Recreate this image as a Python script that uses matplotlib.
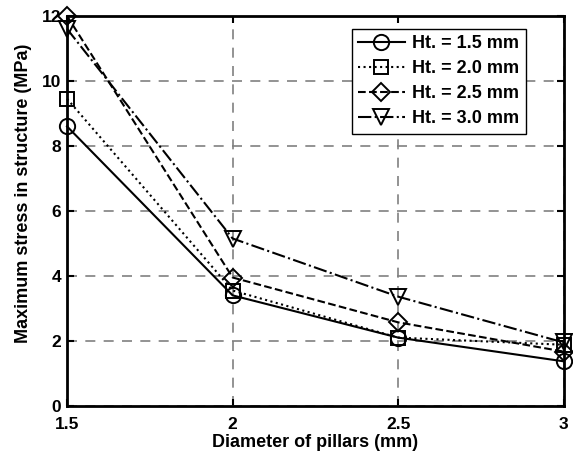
import matplotlib
matplotlib.use('Agg')
import matplotlib.pyplot as plt

plt.rcParams['font.family'] = ['Liberation Sans', 'DejaVu Sans']
plt.rcParams['font.weight'] = 'bold'

diameter = [1.5, 2.0, 2.5, 3.0]
ht_15 = [8.6, 3.4, 2.1, 1.37]
ht_20 = [9.45, 3.55, 2.1, 1.88]
ht_25 = [12.0, 3.95, 2.57, 1.67]
ht_30 = [11.6, 5.15, 3.36, 1.95]
labels = ['Ht. = 1.5 mm', 'Ht. = 2.0 mm', 'Ht. = 2.5 mm', 'Ht. = 3.0 mm']

fig = plt.figure(figsize=(5.73, 4.55), dpi=100)
ax = fig.add_axes([0.117, 0.108, 0.867, 0.857])

style = dict(color='black', lw=1.5, markersize=11, markerfacecolor='none',
             markeredgewidth=1.4, clip_on=False, zorder=3)
ax.plot(diameter, ht_15, linestyle='-', marker='o', label=labels[0], **style)
ax.plot(diameter, ht_20, linestyle=':', marker='s', label=labels[1], **dict(style, markersize=10))
ax.plot(diameter, ht_25, linestyle='--', marker='D', label=labels[2], **dict(style, markersize=9.5))
ax.plot(diameter, ht_30, linestyle='-.', marker='v', label=labels[3], **style)

ax.set_xlim(1.5, 3)
ax.set_ylim(0, 12)
ax.set_xticks([1.5, 2, 2.5, 3])
ax.set_xticklabels(['1.5', '2', '2.5', '3'])
ax.set_yticks(range(0, 13, 2))
ax.grid(True, color='gray', linestyle=(0, (6, 5)), lw=1.2)
ax.tick_params(direction='in', top=True, right=True, length=5, width=1.5,
               labelsize=12.5)
ax.tick_params(axis='x', pad=8)
ax.tick_params(axis='y', pad=4)
for lab in ax.get_xticklabels() + ax.get_yticklabels():
    lab.set_fontweight('bold')
for sp in ax.spines.values():
    sp.set_linewidth(2)

ax.set_xlabel('Diameter of pillars (mm)', fontsize=13, fontweight='bold')
ax.set_ylabel('Maximum stress in structure (MPa)', fontsize=13, fontweight='bold')
ax.xaxis.set_label_coords(0.5, -0.073)
ax.yaxis.set_label_coords(-0.07, 0.546)

leg = ax.legend(loc='upper right', bbox_to_anchor=(0.923, 0.967), fancybox=False,
                framealpha=1, edgecolor='black', handlelength=2.6,
                prop={'weight': 'bold', 'size': 13}, borderpad=0.35,
                labelspacing=0.45, handletextpad=0.4, borderaxespad=0)
leg.get_frame().set_linewidth(1)

fig.savefig('out.png', dpi=100)
